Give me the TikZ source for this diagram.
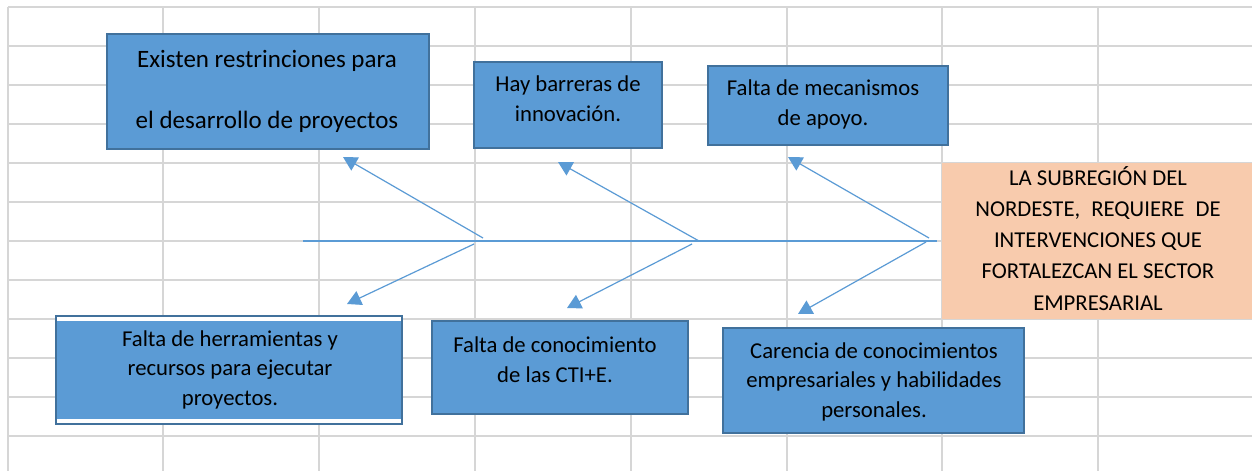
\documentclass[tikz,border=0pt]{standalone}
\usepackage{fontspec}
\setmainfont{Carlito}
\usetikzlibrary{arrows.meta}
\definecolor{boxfill}{HTML}{5B9BD5}
\definecolor{boxline}{HTML}{41719C}
\definecolor{peach}{HTML}{F8CBAD}
\definecolor{gridc}{HTML}{D6D6D6}
\definecolor{arrowc}{HTML}{5B9BD5}
\begin{document}
\begin{tikzpicture}[x=1pt,y=-1pt,
  gridline/.style={draw=gridc, line width=1.6pt},
  causebox/.style={draw=boxline, fill=boxfill, line width=2pt, rectangle, inner sep=0pt},
  effectbox/.style={fill=peach, rectangle, inner sep=0pt},
  txt/.style={align=center, inner sep=0pt, font=\fontsize{22.7}{29.3}\selectfont, anchor=base},
  spine/.style={draw=arrowc, line width=1.3pt},
  causearrow/.style={draw=arrowc, line width=1.2pt, -{Triangle[length=14pt,width=15pt]}}]
\useasboundingbox (0,0) rectangle (1252,471);
\fill[white] (0,0) rectangle (1252,471);
% spreadsheet grid
\foreach \x in {8,163,319,475,631,787,942,1098} \draw[gridline] (\x,7) -- (\x,471);
\foreach \y in {7,46,...,436} \draw[gridline] (8,\y) -- (1252,\y);
% boxes
\node[causebox, minimum width=322pt, minimum height=115pt] (b1) at (268,91.5) {};
\node[causebox, minimum width=188pt, minimum height=86pt] (b2) at (568,105) {};
\node[causebox, minimum width=240pt, minimum height=79pt] (b3) at (828,105.5) {};
\node[effectbox, minimum width=310pt, minimum height=156pt] (e) at (1097,241) {};
\node[causebox, minimum width=346pt, minimum height=108pt] (b4) at (229,370) {};
\fill[white] (57,317) rectangle (401,321);
\fill[white] (57,419) rectangle (401,423);
\node[causebox, minimum width=256pt, minimum height=93pt] (b5) at (560,367.5) {};
\node[causebox, minimum width=301pt, minimum height=105pt] (b6) at (873.5,380.5) {};
% texts (anchor base = last line)
\node[txt, font=\fontsize{25}{61}\selectfont] (t1) at (267,128) {Existen restrinciones para\\el desarrollo de proyectos};
\node[txt] (t2) at (568,121) {Hay barreras de\\innovación.};
\node[txt] (t3) at (823,125) {Falta de mecanismos\\de apoyo.};
\node[txt, font=\fontsize{22.7}{31.25}\selectfont] (te) at (1098,310) {LA SUBREGIÓN DEL\\NORDESTE,\hspace{6pt} REQUIERE\hspace{6pt} DE\\INTERVENCIONES QUE\\FORTALEZCAN EL SECTOR\\EMPRESARIAL};
\node[txt] (t4) at (230,405) {Falta de herramientas y\\recursos para ejecutar\\proyectos.};
\node[txt] (t5) at (555,382) {Falta de conocimiento\\de las CTI+E.};
\node[txt, font=\fontsize{22.7}{29.5}\selectfont] (t6) at (874,417) {Carencia de conocimientos\\empresariales y habilidades\\personales.};
% spine and cause arrows
\coordinate (s0) at (303,241);
\coordinate (s1) at (937,241);
\draw[spine] (s0) -- (s1);
\coordinate (j1u) at (483,238); \coordinate (a1u) at (343,157);
\coordinate (j1d) at (474,244); \coordinate (a1d) at (347,304);
\coordinate (j2u) at (699,241); \coordinate (a2u) at (558,162);
\coordinate (j2d) at (692,244); \coordinate (a2d) at (567,308);
\coordinate (j3u) at (929,238); \coordinate (a3u) at (788,157);
\coordinate (j3d) at (926,242); \coordinate (a3d) at (798,314);
\draw[causearrow] (j1u) -- (a1u);
\draw[causearrow] (j1d) -- (a1d);
\draw[causearrow] (j2u) -- (a2u);
\draw[causearrow] (j2d) -- (a2d);
\draw[causearrow] (j3u) -- (a3u);
\draw[causearrow] (j3d) -- (a3d);
\end{tikzpicture}
\end{document}
